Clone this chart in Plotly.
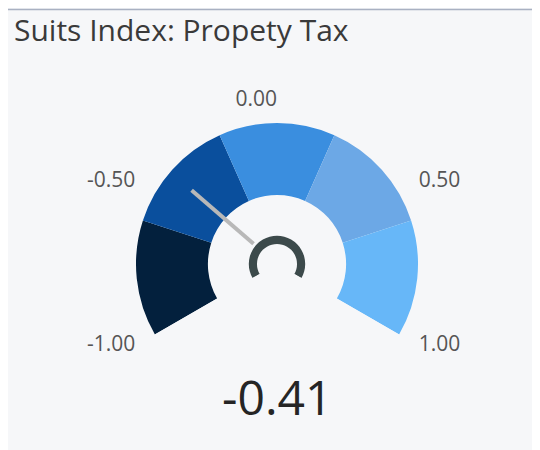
import numpy as np
import plotly.graph_objects as go

# ---- data ----
title = "Suits Index: Propety Tax"
value = -0.41
gauge_min, gauge_max = -1.0, 1.0
band_edges = [-1.0, -0.6, -0.2, 0.2, 0.6, 1.0]
band_colors = ["#03203D", "#0A4F9D", "#3A8EDF", "#6CA8E6", "#67B7F8"]
tick_values = [-1.0, -0.5, 0.0, 0.5, 1.0]
tick_labels = ["-1.00", "-0.50", "0.00", "0.50", "1.00"]

SPAN = 240.0  # degrees swept by the gauge


def to_theta(v):
    return (np.asarray(v, dtype=float) - gauge_min) / (gauge_max - gauge_min) * SPAN


edges_t = to_theta(band_edges)
centers = [float(c) for c in (edges_t[:-1] + edges_t[1:]) / 2]
widths = [float(w) for w in (edges_t[1:] - edges_t[:-1])]

R_IN = 0.49
LABEL_R = 1.16
R_MAX = 1.2
fig = go.Figure()
fig.add_trace(go.Barpolar(
    theta=centers, width=widths, r=[1 - R_IN] * len(centers), base=R_IN,
    marker=dict(color=band_colors, line=dict(width=0)),
    hoverinfo="skip", showlegend=False,
))
# hub arc
fig.add_trace(go.Barpolar(
    theta=[SPAN / 2], width=[SPAN], r=[0.058], base=0.142,
    marker=dict(color="#3C4A4B", line=dict(width=0)),
    hoverinfo="skip", showlegend=False,
))
# needle
vt = float(to_theta(value))
fig.add_trace(go.Scatterpolar(
    theta=[vt, vt], r=[0.22, 0.80], mode="lines",
    line=dict(color="#B8B8B8", width=4),
    hoverinfo="skip", showlegend=False,
))
# tick labels placed on the gauge's angular scale
fig.add_trace(go.Scatterpolar(
    theta=[float(t) for t in to_theta(tick_values)], r=[LABEL_R] * len(tick_values),
    mode="text", text=tick_labels,
    textposition=["middle left", "middle left", "middle left", "middle right", "middle right"],
    textfont=dict(family="Open Sans, sans-serif", size=21, color="#555555"),
    cliponaxis=False, hoverinfo="skip", showlegend=False,
))

# page body has an 8px margin; figure coords are reference coords minus 8
OFF = 8
W, H = 532, 442
cx, cy = 277 - OFF, 264 - OFF
R = 141 * R_MAX  # pixel radius of the full radial range
fig.update_layout(
    width=W, height=H, margin=dict(l=0, r=0, t=0, b=0),
    paper_bgcolor="#F6F7F9", plot_bgcolor="rgba(0,0,0,0)",
    font=dict(family="Open Sans, sans-serif", color="#555555"),
    polar=dict(
        bgcolor="rgba(0,0,0,0)",
        sector=[-30, 210],
        domain=dict(x=[(cx - R) / W, (cx + R) / W],
                    y=[1 - (cy + R / 2) / H, 1 - (cy - R) / H]),
        radialaxis=dict(range=[0, R_MAX], visible=False),
        angularaxis=dict(
            type="linear", rotation=210, direction="clockwise", thetaunit="degrees",
            showticklabels=False, ticks="", showgrid=False, showline=False,
        ),
    ),
    shapes=[
        dict(type="line", xref="paper", yref="paper", x0=0, x1=1,
             y0=1 - 1.5 / H, y1=1 - 1.5 / H, line=dict(color="#A9B1C2", width=1.5)),
    ],
    annotations=[
        dict(text=title, xref="paper", yref="paper", x=(12 - OFF) / W, y=1 - (29 - OFF) / H,
             xanchor="left", yanchor="middle", showarrow=False,
             font=dict(size=30, color="#3A3A3A")),
        dict(text=f"{value:.2f}", xref="paper", yref="paper", x=cx / W, y=1 - (396 - OFF) / H,
             xanchor="center", yanchor="middle", showarrow=False,
             font=dict(size=48, color="#252525")),
    ],
)

fig.write_html("out.html")
